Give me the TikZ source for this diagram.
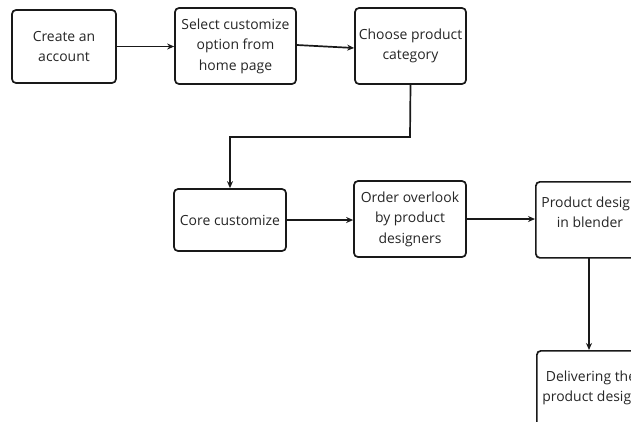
\documentclass[tikz,border=0pt]{standalone}
\usepackage{fontspec}
\setmainfont{Open Sans}
\usetikzlibrary{arrows.meta}
\begin{document}
\begin{tikzpicture}[x=1bp,y=-1bp,
  txt/.style={font=\fontsize{14}{20.5}\selectfont, text=black!85, align=center},
  stepbox/.style={draw=black!90, line width=1.7bp, rounded corners=4bp, txt, inner sep=0pt},
  conn/.style={draw=black!90, line width=1.7bp, -{Stealth[length=7bp,width=6bp]}}]
\useasboundingbox (0,0) rectangle (631,421);
\clip (0,0) rectangle (631,421);
\fill[white] (0,0) rectangle (631,421);
\node[stepbox, minimum width=104bp, minimum height=73bp] (b1) at (64,46.5) {Create an\\account};
\node[stepbox, minimum width=121bp, minimum height=76bp] (b2) at (235.5,46) {Select customize\\option from\\home page};
\node[stepbox, minimum width=111bp, minimum height=76bp] (b3) at (410.5,46) {Choose product\\category};
\node[stepbox, minimum width=112bp, minimum height=62bp] (b4) at (230,220) {Core customize};
\node[stepbox, minimum width=112bp, minimum height=76bp] (b5) at (410,219) {Order overlook\\by product\\designers};
\node[stepbox, minimum width=112bp, minimum height=76bp, anchor=north west] (b6) at (535,181) {};
\node[txt] (t6) at (590,212) {Product design\\in blender};
\node[stepbox, minimum width=112bp, minimum height=80bp, anchor=north west] (b7) at (536,350) {};
\node[txt] (t7) at (591,388) {Delivering the\\product design};
\coordinate (c1) at (410,137);
\coordinate (c2) at (230,137);
\coordinate (d1) at (589,257);
\coordinate (d2) at (589,350);
\draw[conn] (b1.east) -- (b1.east -| b2.west);
\draw[conn] ([yshift=1bp]b2.east) -- ([yshift=-2bp]b3.west);
\draw[conn] (b3.south) -- (c1) -- (c2) -- (b4.north);
\draw[conn] (b4.east) -- (b4.east -| b5.west);
\draw[conn] (b5.east) -- (b5.east -| b6.west);
\draw[conn] (d1) -- (d2);
\end{tikzpicture}
\end{document}
